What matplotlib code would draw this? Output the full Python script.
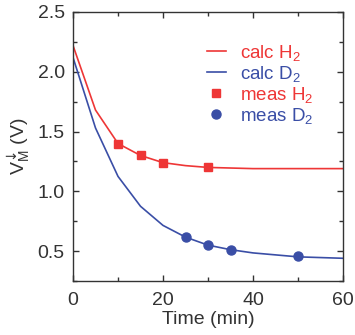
import matplotlib
matplotlib.use("Agg")
import matplotlib.pyplot as plt
from matplotlib.ticker import MultipleLocator

plt.rcParams['font.family'] = ['Liberation Sans', 'DejaVu Sans']
plt.rcParams['mathtext.fontset'] = 'custom'
plt.rcParams['mathtext.rm'] = 'Liberation Sans'
plt.rcParams['mathtext.it'] = 'Liberation Sans'
plt.rcParams['mathtext.bf'] = 'Liberation Sans'
plt.rcParams['mathtext.sf'] = 'DejaVu Sans'

# calculated curves
t_calc = [0, 5, 10, 15, 20, 25, 30, 35, 40, 50, 60]
calc_h2 = [2.22, 1.68, 1.40, 1.30, 1.24, 1.215, 1.20, 1.195, 1.19, 1.19, 1.19]
calc_d2 = [2.12, 1.53, 1.125, 0.875, 0.715, 0.617, 0.55, 0.512, 0.485, 0.452, 0.44]

# measured points
t_meas_h2 = [10, 15, 20, 30]
meas_h2 = [1.40, 1.30, 1.24, 1.20]
t_meas_d2 = [25, 30, 35, 50]
meas_d2 = [0.615, 0.552, 0.513, 0.455]

red = '#ee3636'
blue = '#3a4ea6'
dark = '#333333'

fig = plt.figure(figsize=(3.55, 3.35), dpi=100)
ax = fig.add_axes([73/355, 1 - 281/335, 270/355, 269/335])

ax.plot(t_calc, calc_h2, color=red, lw=1.2, label='calc H$_2$')
ax.plot(t_calc, calc_d2, color=blue, lw=1.2, label='calc D$_2$')
ax.plot(t_meas_h2, meas_h2, 's', color=red, ms=6, ls='none', label='meas H$_2$')
ax.plot(t_meas_d2, meas_d2, 'o', color=blue, ms=6.5, ls='none', label='meas D$_2$')

ax.set_xlim(0, 60)
ax.set_ylim(0.25, 2.5)
ax.xaxis.set_major_locator(MultipleLocator(20))
ax.xaxis.set_minor_locator(MultipleLocator(10))
ax.yaxis.set_minor_locator(MultipleLocator(0.25))
ax.set_yticks([0.5, 1.0, 1.5, 2.0, 2.5])
ax.set_yticklabels(['0.5', '1.0', '1.5', '2.0', '2.5'])
ax.tick_params(which='both', direction='in', top=True, right=True,
               labelsize=14, colors=dark, labelcolor=dark)
ax.tick_params(which='major', length=4, width=1)
ax.tick_params(which='minor', length=3, width=1)
ax.tick_params(axis='x', pad=8)
ax.tick_params(axis='y', pad=6)
for s in ax.spines.values():
    s.set_color(dark)
    s.set_linewidth(1)

ax.set_xlabel('Time (min)', fontsize=14, color=dark, labelpad=1)
ax.set_ylabel('V$_\\mathrm{M}^\\mathsf{\u2193}$ (V)', fontsize=14, color=dark, labelpad=4)

ax.legend(loc='upper left', bbox_to_anchor=(0.495, 0.885), frameon=False,
          fontsize=13.5, labelcolor='linecolor', handlelength=1.05,
          handletextpad=0.75, labelspacing=0.05, borderpad=0, borderaxespad=0)

fig.savefig('out.png', dpi=100)
